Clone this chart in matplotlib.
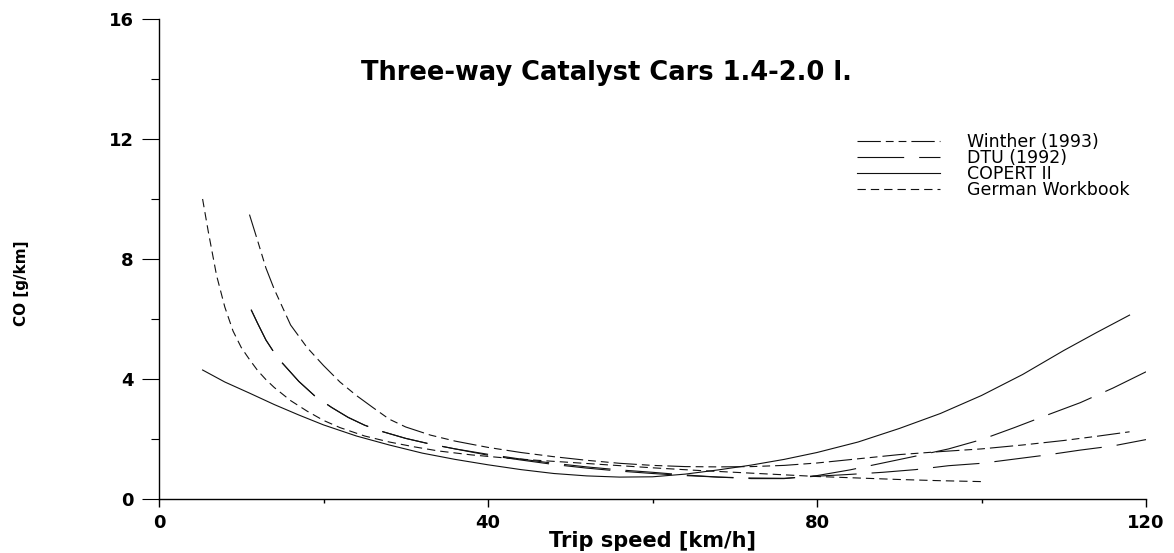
import matplotlib
matplotlib.use("Agg")
import matplotlib.pyplot as plt
from matplotlib.ticker import MultipleLocator

# ---------------- data ----------------
title = "Three-way Catalyst Cars 1.4-2.0 l."
x_label = "Trip speed [km/h]"
y_label = "CO [g/km]"

x_ticks = [0, 40, 80, 120]
y_ticks = [0, 4, 8, 12, 16]

winther_label = "Winther (1993)"
winther_x = [11, 12, 13, 14, 15, 16, 18, 20, 22, 24, 26, 28, 30, 33, 36, 40, 44, 48,
             52, 56, 60, 64, 68, 72, 76, 80, 85, 90, 95, 100, 105, 110, 114, 118]
winther_y = [9.48, 8.6, 7.7, 7.0, 6.4, 5.8, 5.05, 4.45, 3.9, 3.45, 3.05, 2.66, 2.4, 2.13,
             1.93, 1.72, 1.55, 1.41, 1.29, 1.19, 1.12, 1.08, 1.07, 1.08, 1.12, 1.2, 1.34,
             1.48, 1.58, 1.67, 1.8, 1.95, 2.09, 2.24]

dtu_label = "DTU (1992)"
dtu_x = [11.2, 12, 13, 14, 15, 17, 19, 21, 23, 25, 27, 30, 33, 36, 40, 44, 48, 52, 56,
         60, 64, 68, 72, 76, 80, 84, 88, 92, 96, 100, 104, 108, 112, 116, 120]
dtu_y = [6.31, 5.85, 5.3, 4.88, 4.53, 3.92, 3.42, 3.05, 2.72, 2.46, 2.26, 2.02, 1.83,
         1.67, 1.49, 1.33, 1.19, 1.07, 0.97, 0.89, 0.8, 0.73, 0.68, 0.68, 0.78, 0.97,
         1.2, 1.43, 1.67, 1.98, 2.38, 2.8, 3.21, 3.7, 4.24]

# second long-dashed curve (no legend entry in the reference)
dtu2_x = [11.2, 12, 13, 14, 15, 17, 19, 21, 23, 25, 27, 30, 33, 36, 40, 44, 48, 52, 56,
          60, 64, 68, 72, 76, 80, 84, 88, 92, 96, 100, 104, 108, 112, 116, 120]
dtu2_y = [6.31, 5.85, 5.3, 4.88, 4.53, 3.92, 3.42, 3.05, 2.72, 2.46, 2.26, 2.02, 1.83,
          1.67, 1.46, 1.3, 1.15, 1.03, 0.93, 0.85, 0.78, 0.73, 0.7, 0.69, 0.76, 0.82,
          0.89, 0.98, 1.11, 1.19, 1.33, 1.47, 1.63, 1.77, 1.98]

copert_label = "COPERT II"
copert_x = [5.3, 8, 11, 14, 17, 20, 24, 28, 32, 36, 40, 44, 48, 52, 56, 60, 64, 68, 72,
            76, 80, 85, 90, 95, 100, 105, 110, 114, 118]
copert_y = [4.3, 3.9, 3.53, 3.15, 2.8, 2.47, 2.1, 1.8, 1.53, 1.32, 1.14, 0.98, 0.85,
            0.77, 0.73, 0.74, 0.83, 0.97, 1.13, 1.32, 1.55, 1.9, 2.35, 2.85, 3.45, 4.15,
            4.95, 5.55, 6.13]

german_label = "German Workbook"
german_x = [5.3, 6, 7, 8, 9, 10, 11, 12, 13, 14, 15, 16, 18, 20, 22, 25, 28, 31, 34, 38,
            42, 46, 50, 55, 60, 65, 70, 75, 80, 85, 90, 95, 100]
german_y = [10.0, 8.9, 7.45, 6.4, 5.6, 5.05, 4.65, 4.28, 3.98, 3.72, 3.5, 3.28, 2.93,
            2.62, 2.38, 2.1, 1.9, 1.74, 1.6, 1.47, 1.37, 1.29, 1.22, 1.13, 1.04, 0.96,
            0.89, 0.82, 0.75, 0.7, 0.65, 0.61, 0.58]

# ---------------- figure ----------------
W, H = 1174, 553
fig = plt.figure(figsize=(W / 100, H / 100), dpi=100)
ax = fig.add_axes([159 / W, 54 / H, 987 / W, 480 / H])
ax.set_xlim(0, 120)
ax.set_ylim(0, 16)
for s in ("top", "right"):
    ax.spines[s].set_visible(False)
for s in ("left", "bottom"):
    ax.spines[s].set_linewidth(1.0)
    ax.spines[s].set_color("black")

lw = 0.8
ink = "#111111"
ax.plot(dtu2_x, dtu2_y, color=ink, lw=lw,
        linestyle=(0, (42, 13.5)), label="_nolegend_")
ax.plot(winther_x, winther_y, color=ink, lw=lw,
        linestyle=(0, (21, 4.5, 7, 4.5, 7, 4.5)), label=winther_label)
ax.plot(dtu_x, dtu_y, color=ink, lw=lw,
        linestyle=(0, (42, 13.5)), label=dtu_label)
ax.plot(copert_x, copert_y, color=ink, lw=lw, linestyle="-", label=copert_label)
ax.plot(german_x, german_y, color=ink, lw=lw,
        linestyle=(0, (7.5, 4.5)), label=german_label)

bold = dict(fontweight="bold", family="DejaVu Sans")
ax.set_xticks(x_ticks, [str(v) for v in x_ticks], fontsize=13, **bold)
ax.set_yticks(y_ticks, [str(v) for v in y_ticks], fontsize=13, **bold)
ax.xaxis.set_minor_locator(MultipleLocator(20))
ax.yaxis.set_minor_locator(MultipleLocator(2))
ax.tick_params(axis="x", which="major", direction="out", length=6, width=1, pad=5)
ax.tick_params(axis="x", which="minor", direction="out", length=3, width=1)
ax.tick_params(axis="y", which="major", direction="out", length=12, width=0.8, pad=6)
ax.tick_params(axis="y", which="minor", direction="out", length=6, width=0.8)

ax.set_xlabel(x_label, fontsize=15, **bold)
ax.xaxis.set_label_coords(0.5, -0.066)
fig.text(22 / W, 1 - 283 / H, y_label, rotation=90, ha="center", va="center",
         fontsize=11, **bold)

ax.text(0.453, 0.873, title, transform=ax.transAxes, ha="center", va="baseline",
        fontsize=18.5, **bold)

handles, labels = ax.get_legend_handles_labels()
leg = ax.legend(handles, labels, loc="upper left", bbox_to_anchor=(857 / W, 1 - 133 / H),
                bbox_transform=fig.transFigure, frameon=False,
                prop=dict(family="DejaVu Sans", size=12.5), handlelength=4.8,
                handletextpad=1.55, labelspacing=-0.12, borderpad=0, borderaxespad=0)

fig.savefig("out.png", dpi=100)
